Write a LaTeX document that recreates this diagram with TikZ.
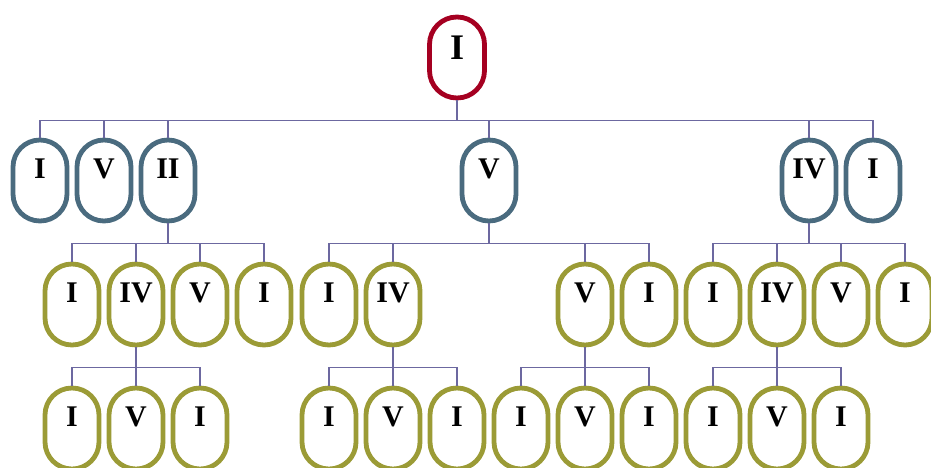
\documentclass[tikz,border=0pt]{standalone}
\usepackage{fontspec}
\setmainfont{Liberation Serif}
\definecolor{rootred}{RGB}{165,0,33}
\definecolor{slateblue}{RGB}{74,107,127}
\definecolor{olivegreen}{RGB}{155,155,54}
\definecolor{linkviolet}{RGB}{108,104,160}
\tikzset{
  pill/.style={draw, fill=white, line width=4.8pt, rounded corners=26.9pt,
    minimum width=54pt, minimum height=81pt, inner sep=0pt,
    font=\fontsize{30}{30}\selectfont\bfseries, text height=20pt, text depth=24pt},
  rootpill/.style={pill, draw=rootred, minimum width=55pt, rounded corners=27.4pt,
    font=\fontsize{36}{36}\selectfont\bfseries, text height=24pt, text depth=20pt},
  lvone/.style={pill, draw=slateblue},
  lvtwo/.style={pill, draw=olivegreen},
  link/.style={draw=linkviolet, line width=1.4pt},
}
\begin{document}
\begin{tikzpicture}[x=1pt, y=-1pt]
\useasboundingbox (0,0) rectangle (931,468);
\clip (0,0) rectangle (931,468);

% root
\node[rootpill] (r) at (457,57.5) {I};

% first level
\node[lvone] (a1) at (40,180.5) {I};
\node[lvone] (a2) at (104,180.5) {V};
\node[lvone] (a3) at (168,180.5) {II};
\node[lvone] (a4) at (489,180.5) {V};
\node[lvone] (a5) at (809,180.5) {IV};
\node[lvone] (a6) at (873,180.5) {I};

% second level
\node[lvtwo] (b1) at (72,304.5) {I};
\node[lvtwo] (b2) at (136,304.5) {IV};
\node[lvtwo] (b3) at (200,304.5) {V};
\node[lvtwo] (b4) at (264,304.5) {I};
\node[lvtwo] (b5) at (329,304.5) {I};
\node[lvtwo] (b6) at (393,304.5) {IV};
\node[lvtwo] (b7) at (585,304.5) {V};
\node[lvtwo] (b8) at (649,304.5) {I};
\node[lvtwo] (b9) at (713,304.5) {I};
\node[lvtwo] (b10) at (777,304.5) {IV};
\node[lvtwo] (b11) at (841,304.5) {V};
\node[lvtwo] (b12) at (905,304.5) {I};

% third level
\node[lvtwo] (c1) at (72,428.5) {I};
\node[lvtwo] (c2) at (136,428.5) {V};
\node[lvtwo] (c3) at (200,428.5) {I};
\node[lvtwo] (c4) at (329,428.5) {I};
\node[lvtwo] (c5) at (393,428.5) {V};
\node[lvtwo] (c6) at (457,428.5) {I};
\node[lvtwo] (c7) at (521,428.5) {I};
\node[lvtwo] (c8) at (585,428.5) {V};
\node[lvtwo] (c9) at (649,428.5) {I};
\node[lvtwo] (c10) at (713,428.5) {I};
\node[lvtwo] (c11) at (777,428.5) {V};
\node[lvtwo] (c12) at (841,428.5) {I};

% connectors: parent drops to a bus, then across and down to each child
\foreach \p/\kids in {r/{a1,a2,a3,a4,a5,a6},
                      a3/{b1,b2,b3,b4}, a4/{b5,b6,b7,b8}, a5/{b9,b10,b11,b12},
                      b2/{c1,c2,c3}, b6/{c4,c5,c6}, b7/{c7,c8,c9}, b10/{c10,c11,c12}}
  \foreach \k in \kids
    \draw[link] (\p.south) -- ++(0,20) -| (\k.north);
\end{tikzpicture}
\end{document}
